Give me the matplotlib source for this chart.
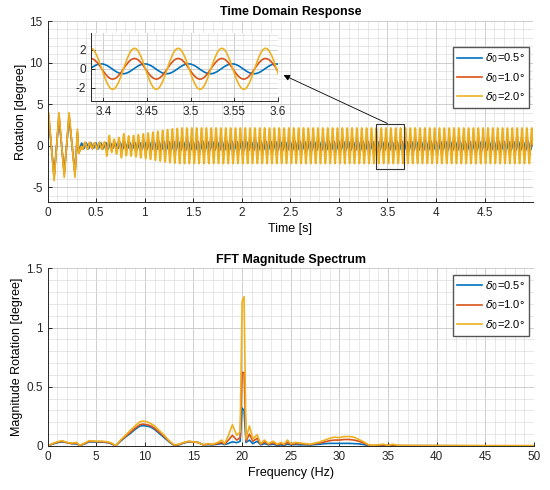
import numpy as np
import matplotlib
matplotlib.use('Agg')
import matplotlib.pyplot as plt
from matplotlib.ticker import MultipleLocator, FuncFormatter
from matplotlib.patches import Rectangle

plt.rcParams['font.family'] = ['Liberation Sans', 'DejaVu Sans']
plt.rcParams['mathtext.fontset'] = 'dejavusans'

C05, C10, C20 = '#0072BD', '#D95319', '#EDB120'
labels = [r'$\delta_0$=0.5°', r'$\delta_0$=1.0°', r'$\delta_0$=2.0°']

# ---- time domain: start-up transient vertices (s, degree)
tr_t = [0.000, 0.012, 0.068, 0.118, 0.172, 0.222, 0.283, 0.308, 0.322]
tr_05 = [0.0, 3.3, -3.6, 3.4, -3.3, 3.4, -3.3, 1.4, -0.8]
tr_10 = [0.0, 3.7, -3.9, 3.7, -3.5, 3.7, -3.5, 1.7, -0.9]
tr_20 = [0.0, 4.0, -4.2, 4.0, -3.8, 4.0, -3.8, 2.0, -0.9]

# one 20 Hz cycle (0.05 s) as read from the zoom window, normalised
cyc_step = 0.0025
shape_a = [-0.22, -0.51, -0.75, -0.92, -1.0, -0.98, -0.86, -0.66, -0.4, -0.09,
           0.22, 0.51, 0.75, 0.92, 1.0, 0.98, 0.86, 0.66, 0.4, 0.09]
shape_b = [0.95, 0.81, 0.59, 0.31, 0.0, -0.31, -0.59, -0.81, -0.95, -1.0,
           -0.95, -0.81, -0.59, -0.31, 0.0, 0.31, 0.59, 0.81, 0.95, 1.0]
period = 0.05
ramp_start = 0.35
t_end = 5.0
# amplitude of each cycle while the oscillation builds up, then steady value
env_05 = [0.35, 0.35, 0.3, 0.35, 0.35, 0.4, 0.3, 0.35, 0.4, 0.35,
          0.38, 0.4, 0.42, 0.44, 0.46, 0.48, 0.5, 0.5, 0.52, 0.52]
env_10 = [0.4, 0.4, 0.35, 0.4, 0.4, 0.65, 0.45, 0.55, 0.7, 0.62,
          0.65, 0.7, 0.75, 0.8, 0.85, 0.9, 0.95, 1.0, 1.03, 1.06]
env_20 = [0.4, 0.4, 0.35, 0.4, 0.45, 1.25, 0.8, 1.0, 1.45, 1.2,
          1.25, 1.35, 1.45, 1.55, 1.65, 1.75, 1.85, 1.95, 2.05, 2.1]
steady_05, steady_10, steady_20 = 0.52, 1.08, 2.15


def build(tr, env, steady, shape):
    n_cyc = int(round((t_end - ramp_start) / period))
    amps = np.array(env + [steady] * (n_cyc - len(env)))
    starts = ramp_start + period * np.arange(n_cyc)
    t_cyc = (starts[:, None] + cyc_step * np.arange(len(shape))[None, :]).ravel()
    y_cyc = (amps[:, None] * np.array(shape)[None, :]).ravel()
    return np.concatenate([tr_t, t_cyc]), np.concatenate([tr, y_cyc])


t05, y05 = build(tr_05, env_05, steady_05, shape_b)
t10, y10 = build(tr_10, env_10, steady_10, shape_a)
t20, y20 = build(tr_20, env_20, steady_20, shape_a)

# ---- FFT magnitude spectrum
freq = [0, 0.5, 1.0, 1.5, 2.0, 2.5, 3.0, 3.3, 3.8, 4.3, 5.0, 5.6, 6.2, 6.6, 7.0,
        7.5, 8.0, 8.5, 9.0, 9.5, 9.8, 10.2, 10.6, 11.0, 11.5, 12.0, 12.5, 13.0,
        13.5, 14.0, 14.5, 15.0, 15.5, 16.0, 16.5, 17.0, 17.5, 17.9, 18.2, 18.6,
        19.0, 19.45, 19.8, 20.0, 20.2, 20.4, 20.75, 21.1, 21.55, 21.9, 22.3,
        22.7, 23.2, 23.6, 24.0, 24.3, 24.65, 25.0, 25.5, 26.0, 26.5, 27.0, 27.5,
        28.0, 28.5, 29.0, 29.5, 30.0, 30.5, 31.0, 31.5, 32.0, 32.5, 33.0, 33.5,
        34.0, 34.5, 35.0, 35.5, 36.0, 37, 40, 45, 50]
mag_20 = [0.0, 0.02, 0.035, 0.045, 0.03, 0.025, 0.03, 0.005, 0.025, 0.045, 0.04,
          0.04, 0.035, 0.025, 0.0, 0.05, 0.09, 0.13, 0.17, 0.205, 0.21, 0.205,
          0.19, 0.17, 0.13, 0.09, 0.045, 0.01, 0.015, 0.03, 0.04, 0.035, 0.03,
          0.01, 0.02, 0.015, 0.03, 0.05, 0.02, 0.09, 0.18, 0.09, 0.12, 1.22, 1.26,
          0.06, 0.17, 0.06, 0.095, 0.02, 0.05, 0.02, 0.04, 0.015, 0.03, 0.015,
          0.05, 0.02, 0.03, 0.025, 0.02, 0.015, 0.025, 0.035, 0.05, 0.065, 0.075,
          0.07, 0.08, 0.08, 0.075, 0.055, 0.035, 0.01, 0.005, 0.01, 0.015, 0.005,
          0.015, 0.005, 0.004, 0.004, 0.003, 0.003]
mag_10 = [0.0, 0.018, 0.032, 0.04, 0.028, 0.02, 0.025, 0.004, 0.02, 0.04, 0.037,
          0.037, 0.03, 0.02, 0.0, 0.045, 0.08, 0.115, 0.15, 0.18, 0.185, 0.18,
          0.17, 0.15, 0.115, 0.08, 0.04, 0.008, 0.012, 0.028, 0.038, 0.035, 0.028,
          0.01, 0.015, 0.012, 0.02, 0.03, 0.015, 0.05, 0.09, 0.05, 0.07, 0.62, 0.62,
          0.04, 0.1, 0.04, 0.065, 0.015, 0.035, 0.015, 0.025, 0.01, 0.02, 0.01,
          0.03, 0.015, 0.02, 0.02, 0.015, 0.012, 0.02, 0.025, 0.035, 0.045, 0.05,
          0.05, 0.055, 0.055, 0.05, 0.04, 0.025, 0.008, 0.004, 0.008, 0.01, 0.004,
          0.01, 0.004, 0.003, 0.003, 0.002, 0.002]
mag_05 = [0.0, 0.015, 0.028, 0.035, 0.028, 0.02, 0.018, 0.003, 0.018, 0.035, 0.033,
          0.033, 0.028, 0.018, 0.0, 0.04, 0.075, 0.105, 0.14, 0.168, 0.172, 0.168,
          0.16, 0.14, 0.105, 0.07, 0.035, 0.005, 0.01, 0.025, 0.035, 0.035, 0.03,
          0.01, 0.012, 0.01, 0.015, 0.02, 0.012, 0.022, 0.035, 0.028, 0.04, 0.32, 0.3,
          0.03, 0.05, 0.02, 0.04, 0.01, 0.02, 0.01, 0.015, 0.005, 0.01, 0.005,
          0.015, 0.01, 0.012, 0.01, 0.01, 0.008, 0.012, 0.015, 0.02, 0.022, 0.022,
          0.022, 0.022, 0.022, 0.02, 0.018, 0.012, 0.004, 0.002, 0.003, 0.004, 0.002,
          0.003, 0.002, 0.002, 0.002, 0.001, 0.001]

fmt = FuncFormatter(lambda v, p: '%g' % round(v, 6))
AX_COL = '#262626'
LW = 1.2


def style(ax, xmaj, xmin, ymaj, ymin):
    ax.xaxis.set_major_locator(MultipleLocator(xmaj))
    ax.xaxis.set_minor_locator(MultipleLocator(xmin))
    ax.yaxis.set_major_locator(MultipleLocator(ymaj))
    ax.yaxis.set_minor_locator(MultipleLocator(ymin))
    ax.xaxis.set_major_formatter(fmt)
    ax.yaxis.set_major_formatter(fmt)
    ax.grid(which='major', color='#c6c6c6', lw=0.6)
    ax.grid(which='minor', color='#dddddd', lw=0.5)
    ax.set_axisbelow(True)
    for s in ('top', 'right'):
        ax.spines[s].set_visible(False)
    for s in ('left', 'bottom'):
        ax.spines[s].set_color(AX_COL)
        ax.spines[s].set_linewidth(0.7)
    ax.tick_params(which='major', direction='in', length=3, width=0.7,
                   colors=AX_COL, labelsize=8.5)
    ax.tick_params(which='minor', length=0)


def add_legend(ax, anchor):
    ax.legend(loc='upper right', bbox_to_anchor=anchor, fontsize=8,
              fancybox=False, framealpha=1, edgecolor='#555555',
              handlelength=2.2, handletextpad=0.3, borderpad=0.38,
              labelspacing=0.5, borderaxespad=0)


fig = plt.figure(figsize=(5.5, 4.9), dpi=100)

# ---- top: time domain
ax1 = fig.add_axes([0.0864, 0.5871, 0.8827, 0.370])
ax1.plot(t05, y05, color=C05, lw=LW, label=labels[0])
ax1.plot(t10, y10, color=C10, lw=LW, label=labels[1])
ax1.plot(t20, y20, color=C20, lw=LW, label=labels[2])
ax1.set_xlim(0, 4.999)
ax1.set_ylim(-6.8, 15)
style(ax1, 0.5, 0.1, 5, 1)
ax1.set_title('Time Domain Response', fontsize=9, fontweight='bold', pad=4)
ax1.set_xlabel('Time [s]', fontsize=9, labelpad=3)
ax1.set_ylabel('Rotation [degree]', fontsize=9, labelpad=2)
add_legend(ax1, (0.992, 0.855))
ax1.add_patch(Rectangle((3.38, -2.75), 0.29, 5.4, fill=False,
                        edgecolor='#333333', lw=0.8, zorder=5))
ax1.annotate('', xy=(2.43, 8.5), xytext=(3.50, 2.68),
             arrowprops=dict(arrowstyle='-|>', color='k', lw=0.6,
                             mutation_scale=9, shrinkA=0, shrinkB=0))

# ---- inset zoom
axi = fig.add_axes([0.1655, 0.7933, 0.340, 0.1394])
axi.set_facecolor('white')
axi.plot(t05, y05, color=C05, lw=LW)
axi.plot(t10, y10, color=C10, lw=LW)
axi.plot(t20, y20, color=C20, lw=LW)
axi.set_xlim(3.386, 3.6)
axi.set_ylim(-3.4, 3.75)
style(axi, 0.05, 0.01, 2, 0.5)

# ---- bottom: FFT
ax2 = fig.add_axes([0.0864, 0.0898, 0.8845, 0.3627])
ax2.plot(freq, mag_05, color=C05, lw=LW, label=labels[0])
ax2.plot(freq, mag_10, color=C10, lw=LW, label=labels[1])
ax2.plot(freq, mag_20, color=C20, lw=LW, label=labels[2])
ax2.set_xlim(0, 50)
ax2.set_ylim(0, 1.5)
style(ax2, 5, 1, 0.5, 0.1)
ax2.set_title('FFT Magnitude Spectrum', fontsize=9, fontweight='bold', pad=4)
ax2.set_xlabel('Frequency (Hz)', fontsize=9, labelpad=3)
ax2.set_ylabel('Magnitude Rotation [degree]', fontsize=9, labelpad=2)
add_legend(ax2, (0.990, 0.962))

fig.savefig('out.png', dpi=100, facecolor='white')
